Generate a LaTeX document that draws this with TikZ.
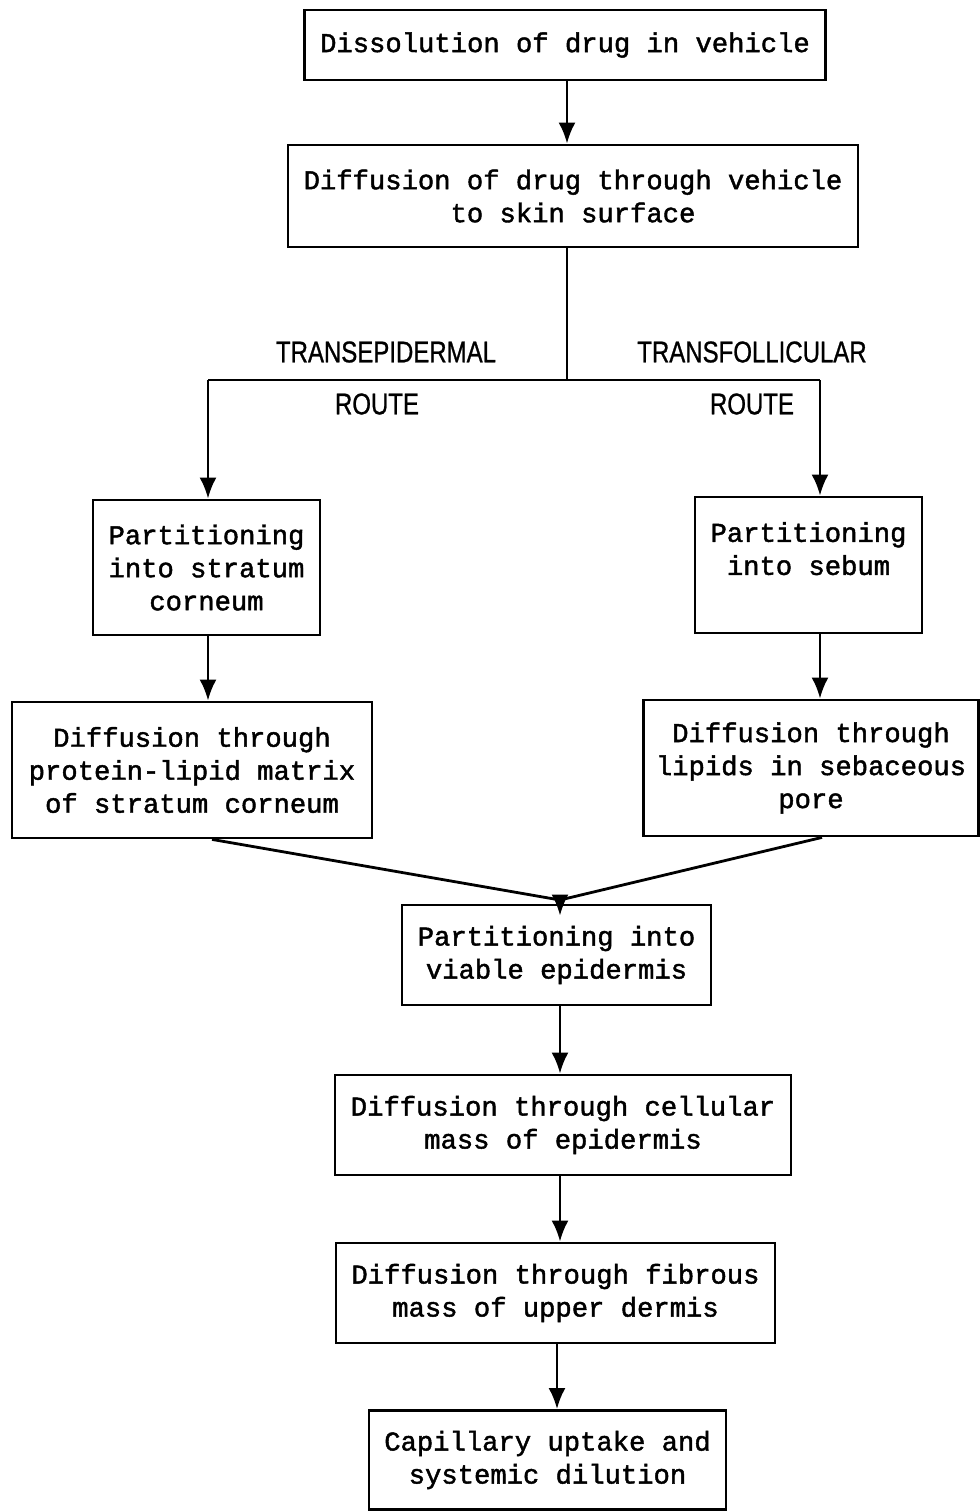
\documentclass[tikz,border=0pt]{standalone}
\usepackage{fontspec}
\setmonofont[FakeBold=1.6]{Liberation Mono}
\newfontfamily\routefont[FakeStretch=0.8,FakeBold=0.8]{Liberation Sans}
\usetikzlibrary{arrows.meta}
\begin{document}
\begin{tikzpicture}[x=0.5pt,y=-0.5pt,>={Latex[length=10.5pt,width=8.5pt]},
        box/.style={draw, line width=1.4pt, align=center, inner sep=3pt,
            font=\ttfamily\fontsize{13.6}{16.5}\selectfont},
        route/.style={font=\routefont\fontsize{15}{17}\selectfont},
        link/.style={draw, line width=1.4pt}]
    \useasboundingbox (0,0) rectangle (980,1511);

    \node[box, minimum width=260.5pt, minimum height=35pt] (dissolve) at (565,45) {Dissolution of drug in vehicle};
    \node[box, minimum width=285pt, minimum height=51pt] (vehicle) at (573,196) {Diffusion of drug through vehicle\\to skin surface};
    \node[box, minimum width=113.5pt, minimum height=67.5pt] (corneum) at (206.5,567.5) {Partitioning\\into stratum\\corneum};
    \node[box, minimum width=113.5pt, minimum height=68pt] (sebum) at (808.5,565) {Partitioning\\into sebum\\\mbox{}};
    \node[box, minimum width=180pt, minimum height=68pt] (matrix) at (192,770) {Diffusion through\\protein-lipid matrix\\of stratum corneum};
    \node[box, minimum width=167.5pt, minimum height=68pt] (pore) at (811,768) {Diffusion through\\lipids in sebaceous\\pore};
    \node[box, minimum width=154.5pt, minimum height=50pt] (viable) at (556.5,955) {Partitioning into\\viable epidermis};
    \node[box, minimum width=228pt, minimum height=50pt] (cellular) at (563,1125) {Diffusion through cellular\\mass of epidermis};
    \node[box, minimum width=219.5pt, minimum height=50pt] (fibrous) at (555.5,1293) {Diffusion through fibrous\\mass of upper dermis};
    \node[box, minimum width=178.5pt, minimum height=49.5pt] (capillary) at (547.5,1460) {Capillary uptake and\\systemic dilution};

    \node[route] (epiname) at (386,352) {TRANSEPIDERMAL};
    \node[route] (epiroute) at (377,404) {ROUTE};
    \node[route] (folname) at (752,352) {TRANSFOLLICULAR};
    \node[route] (folroute) at (752,404) {ROUTE};

    \coordinate (split) at (567,380);
    \coordinate (left) at (208,380);
    \coordinate (right) at (820,380);
    \coordinate (merge) at (560,900);

    \path[link,->] (dissolve.south -| 567,0) -- (vehicle.north -| 567,0);
    \path[link] (vehicle.south -| split) -- (split);
    \path[link] (left) -- (right);
    \path[link,->] (left) -- (left |- corneum.north);
    \path[link,->] (right) -- (right |- sebum.north);
    \path[link,->] (corneum.south -| left) -- (left |- matrix.north);
    \path[link,->] (sebum.south -| right) -- (right |- pore.north);
    \path[link] (matrix.south -| 212,0) -- (merge);
    \path[link] (pore.south -| 822,0) -- (merge);
    \path[link,->] (merge) -- ([yshift=-6pt]merge |- viable.north);
    \path[link,->] (viable.south -| merge) -- (merge |- cellular.north);
    \path[link,->] (cellular.south -| merge) -- (merge |- fibrous.north);
    \path[link,->] (fibrous.south -| 557,0) -- (capillary.north -| 557,0);
\end{tikzpicture}
\end{document}
